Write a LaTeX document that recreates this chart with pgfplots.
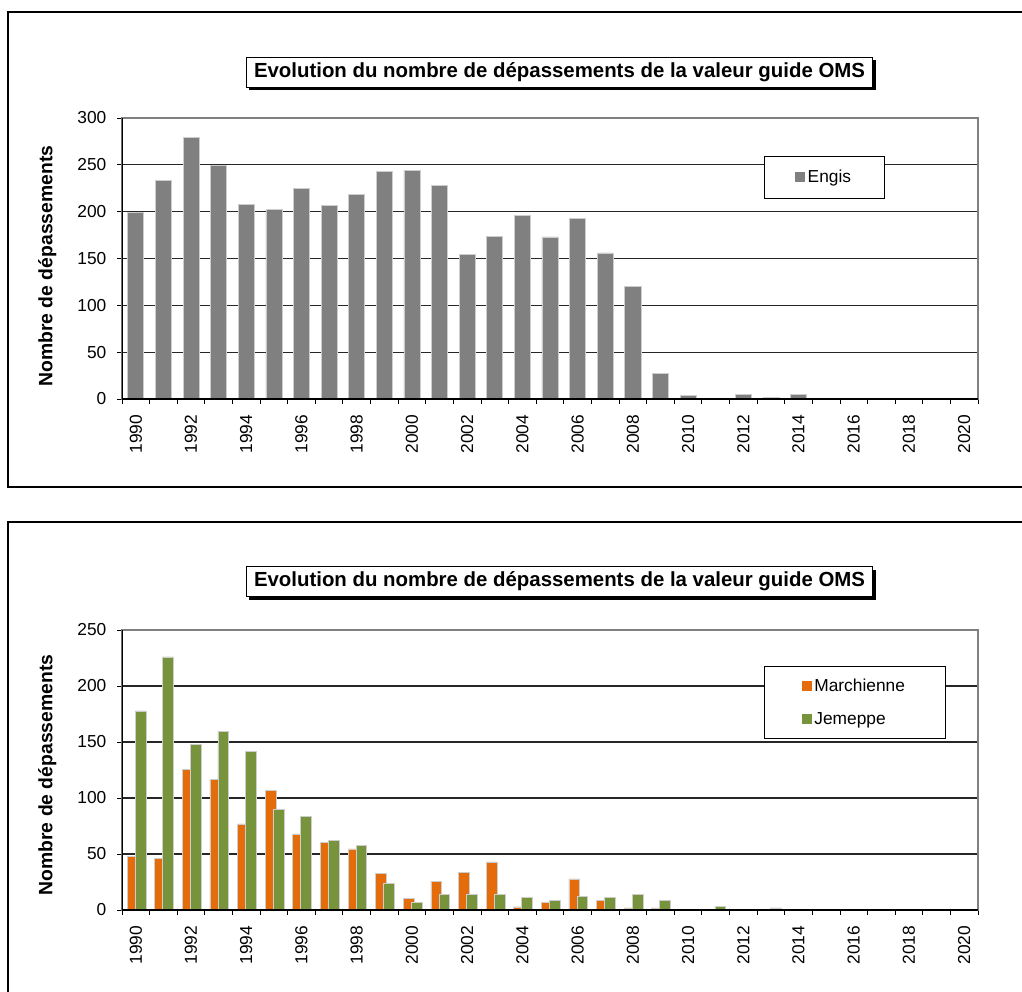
\documentclass[border=0pt]{standalone}
\usepackage{fontspec}
\setmainfont{Liberation Sans}
\usepackage{pgfplots}
\pgfplotsset{compat=1.18}
\usetikzlibrary{shadows}

\definecolor{engis}{RGB}{128,128,128}
\definecolor{marchi}{RGB}{228,108,10}
\definecolor{jem}{RGB}{119,147,60}
\definecolor{barline}{RGB}{205,205,205}

\pgfplotsset{
  oms/.style={
    ybar,
    scale only axis,
    width=642pt,
    xmin=1989.5, xmax=2020.5,
    ymin=0,
    xtick={1990,1992,...,2020},
    minor xtick={1989.5,1990.5,...,2020.5},
    major x tick style={draw=none},
    minor x tick style={black, line width=0.6pt},
    major y tick style={black, line width=0.6pt},
    tick align=outside,
    major tick length=3.75pt,
    minor tick length=3.75pt,
    xtick pos=bottom, ytick pos=left,
    xticklabel style={rotate=90, anchor=east},
    xticklabel shift=4.5pt,
    yticklabel shift=4.5pt,
    /pgf/number format/assume math mode=true,
    /pgf/number format/1000 sep={},
    tick label style={font=\fontsize{13}{15}\selectfont},
    ymajorgrids,
    major grid style={black!85, line width=0.8pt},
    axis line style={draw=gray, line width=1pt},
    ylabel={Nombre de dépassements},
    ylabel style={font=\fontsize{14.5}{17}\selectfont\bfseries},
    legend style={draw=black, fill=white, line width=0.6pt,
      font=\fontsize{13}{15}\selectfont},
    legend cell align=left,
    legend image code/.code={\path[##1, draw=none] (0pt,-3.75pt) rectangle (7.5pt,3.75pt);},
  }
}

\begin{document}
\begin{tikzpicture}
\path[use as bounding box] (0,0) rectangle (766.5pt,-744pt);
\clip (0,0) rectangle (766.5pt,-744pt);

% top panel
\begin{axis}[oms,
  at={(91.5pt,-299.25pt)}, anchor=south west,
  height=210.75pt,
  ymax=300, ytick={0,50,...,300},
  bar width=0.58,
  ylabel style={at={(rel axis cs:0,0.473)}, anchor=center, yshift=56pt},
  legend style={at={(rel axis cs:0.75,0.865)}, anchor=north west,
    inner xsep=23pt, inner ysep=8.4pt},
]
\addplot[fill=engis, draw=barline, line width=0.5pt] coordinates {
(1990,199) (1991,233) (1992,279) (1993,249) (1994,208) (1995,202)
(1996,225) (1997,207) (1998,218) (1999,243) (2000,244) (2001,228)
(2002,154) (2003,174) (2004,196) (2005,173) (2006,193) (2007,156)
(2008,120) (2009,27) (2010,3.5) (2011,1) (2012,5) (2013,1.5)
(2014,5) (2015,0.5) (2016,0) (2017,1) (2018,0) (2019,0) (2020,1)};
\addlegendentry{Engis}
\draw[black, line width=1pt] (rel axis cs:0,1) -- (rel axis cs:0,0) -- (rel axis cs:1,0);
\end{axis}

% bottom panel
\begin{axis}[oms,
  at={(91.5pt,-682.5pt)}, anchor=south west,
  height=210pt,
  ymax=250, ytick={0,50,...,250},
  bar width=0.39,
  ylabel style={at={(rel axis cs:0,0.482)}, anchor=center, yshift=56pt},
  legend style={at={(rel axis cs:0.75,0.871)}, anchor=north west,
    inner xsep=28pt, inner ysep=7pt, row sep=10.25pt},
]
\addplot[fill=marchi, draw=barline, line width=0.5pt, bar shift=-0.12] coordinates {
(1990,47.6) (1991,46.4) (1992,125.9) (1993,116.7) (1994,76.8) (1995,106.8)
(1996,67.9) (1997,60.7) (1998,54.5) (1999,32.7) (2000,10.7) (2001,25.9)
(2002,33.9) (2003,42.9) (2004,2.7) (2005,6.5) (2006,27.7) (2007,8.9)
(2008,1.8) (2009,1.8) (2010,0) (2011,0) (2012,0) (2013,0)
(2014,0) (2015,0) (2016,0) (2017,0) (2018,0) (2019,0) (2020,0)};
\addlegendentry{Marchienne}
\addplot[fill=jem, draw=barline, line width=0.5pt, bar shift=0.17] coordinates {
(1990,177.7) (1991,225.9) (1992,147.6) (1993,159.8) (1994,141.7) (1995,89.6)
(1996,83.6) (1997,62.5) (1998,57.4) (1999,23.5) (2000,6.5) (2001,13.7)
(2002,13.7) (2003,13.7) (2004,11.6) (2005,8.9) (2006,12.5) (2007,11.6)
(2008,13.7) (2009,8.9) (2010,0) (2011,3) (2012,0) (2013,1.8)
(2014,0) (2015,0) (2016,0) (2017,0) (2018,0) (2019,0) (2020,0)};
\addlegendentry{Jemeppe}
\draw[black, line width=1pt] (rel axis cs:0,1) -- (rel axis cs:0,0) -- (rel axis cs:1,0);
\end{axis}

\begin{scope}[x=0.75pt, y=-0.75pt]
\draw[black, line width=1.9pt] (8,12) rectangle (1040,487);
\draw[black, line width=1.9pt] (8,522) rectangle (1040,1010);
\foreach \yy in {72,581.5}{
\node[draw=black, fill=white, line width=0.6pt,
  drop shadow={shadow xshift=2.25pt, shadow yshift=-2.25pt, fill=black, opacity=1},
  minimum width=470pt, minimum height=22.5pt,
  font=\fontsize{15.3}{18}\selectfont\bfseries] at (559.5,\yy)
  {Evolution du nombre de dépassements de la valeur guide OMS};
}
\end{scope}
\end{tikzpicture}
\end{document}
